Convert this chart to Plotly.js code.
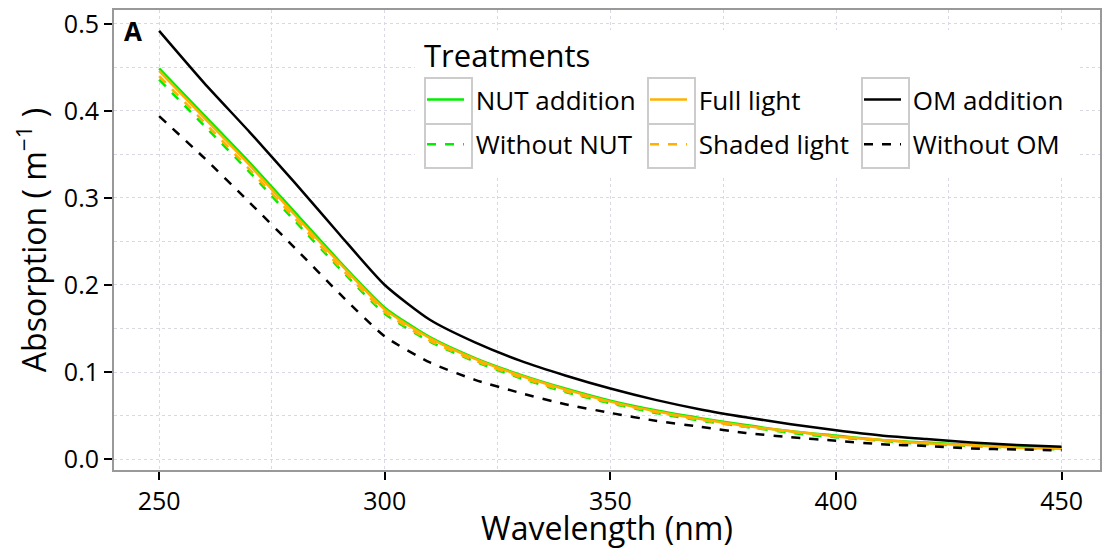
<!DOCTYPE html>
<html>
<head>
<meta charset="utf-8">
<script src="https://cdn.plot.ly/plotly-3.0.1.min.js"></script>
<style>html,body{margin:0;padding:0;background:#fff;}#chart{width:1104px;height:549px;}</style>
</head>
<body>
<div id="chart"></div>
<script>
const wavelength = [250,260,270,280,290,300,310,320,330,340,350,360,370,380,390,400,410,420,430,440,450];
const nutAddition = [0.449,0.395,0.341,0.284,0.227,0.174,0.140,0.116,0.097,0.081,0.067,0.056,0.047,0.039,0.032,0.027,0.022,0.019,0.016,0.014,0.012];
const withoutNut  = [0.436,0.383,0.330,0.274,0.219,0.167,0.135,0.112,0.093,0.077,0.064,0.053,0.044,0.037,0.030,0.025,0.021,0.017,0.015,0.013,0.011];
const fullLight   = [0.446,0.392,0.338,0.281,0.225,0.172,0.139,0.115,0.096,0.080,0.066,0.055,0.046,0.038,0.032,0.026,0.022,0.018,0.016,0.013,0.012];
const shadedLight = [0.440,0.387,0.333,0.277,0.221,0.169,0.136,0.113,0.094,0.078,0.065,0.054,0.045,0.037,0.031,0.026,0.021,0.018,0.015,0.013,0.011];
const omAddition  = [0.492,0.432,0.376,0.318,0.258,0.200,0.160,0.134,0.113,0.096,0.081,0.068,0.057,0.048,0.040,0.033,0.027,0.023,0.019,0.016,0.014];
const withoutOm   = [0.394,0.346,0.295,0.243,0.190,0.141,0.111,0.091,0.076,0.063,0.053,0.044,0.037,0.030,0.025,0.021,0.017,0.015,0.012,0.011,0.010];
const xTicks = [250,300,350,400,450];
const yTicks = [0.0,0.1,0.2,0.3,0.4,0.5];
const yTickText = ['0.0','0.1','0.2','0.3','0.4','0.5'];
const legendTitle = 'Treatments';
const panelLabel = 'A';

// pixel -> paper helpers (plot area: x 114..1100, y 10..470)
const px = p => (p - 114) / 986;
const py = p => 1 - (p - 10) / 460;

function tr(name, y, color, dash, leg){
  return {x: wavelength, y: y, name: '\u00a0' + name, type:'scatter', mode:'lines', legend: leg, legendgroup: name,
    line:{color:color, width:2.5, dash:dash, shape:'spline', smoothing:0.6}};
}
const data = [
  tr('NUT addition', nutAddition, '#00ee00', 'solid', 'legend'),
  tr('Without NUT', withoutNut, '#00ee00', 'dash', 'legend'),
  tr('Full light', fullLight, '#ffb000', 'solid', 'legend2'),
  tr('Shaded light', shadedLight, '#ffb000', 'dash', 'legend2'),
  tr('OM addition', omAddition, '#000000', 'solid', 'legend3'),
  tr('Without OM', withoutOm, '#000000', 'dash', 'legend3')
];
const gridC = '#d9d9e3';
function leg(xp){
  return {orientation:'v', x:px(xp), y:py(76), xanchor:'left', yanchor:'top',
    bgcolor:'rgba(0,0,0,0)', borderwidth:0, font:{size:26, color:'#000'},
    itemwidth:37, tracegroupgap:8};
}
const shapes = [
  {type:'rect', xref:'paper', yref:'paper', x0:px(415), x1:px(1078), y0:py(176), y1:py(30),
   fillcolor:'#fff', line:{width:0}, layer:'above'}
];
[425, 648, 862].forEach(x0 => {
  [[78,124],[124,168]].forEach(r => {
    shapes.push({type:'rect', xref:'paper', yref:'paper', x0:px(x0), x1:px(x0+47), y0:py(r[1]), y1:py(r[0]),
      fillcolor:'#fff', line:{color:'#cccccc', width:2}, layer:'above'});
  });
});
const layout = {
  width:1104, height:549,
  margin:{l:114, r:4, t:10, b:79},
  paper_bgcolor:'#fff', plot_bgcolor:'#fff',
  font:{family:'Open Sans, Noto Sans, sans-serif', color:'#000'},
  showlegend:true,
  xaxis:{range:[240,458.5], tickvals:xTicks, ticks:'outside', ticklen:8, tickwidth:2, tickcolor:'#000',
    tickfont:{size:25, color:'#000'}, showline:true, mirror:true, linecolor:'#999', linewidth:2,
    showgrid:true, gridcolor:gridC, griddash:'dot', gridwidth:1, zeroline:false,
    minor:{tickvals:[275,325,375,425], showgrid:true, gridcolor:gridC, griddash:'dot', gridwidth:1, ticks:''},
    title:{text:'Wavelength (nm)', font:{size:32, color:'#000'}, standoff:4}},
  yaxis:{range:[-0.0126,0.516], tickvals:yTicks, ticktext:yTickText, ticks:'outside', ticklen:8, tickwidth:2, tickcolor:'#000',
    tickfont:{size:25, color:'#000'}, showline:true, mirror:true, linecolor:'#999', linewidth:2,
    showgrid:true, gridcolor:gridC, griddash:'dot', gridwidth:1, zeroline:false,
    minor:{tickvals:[0.05,0.15,0.25,0.35,0.45], showgrid:true, gridcolor:gridC, griddash:'dot', gridwidth:1, ticks:''},
    title:{text:'Absorption ( m<sup>\u22121</sup> )', font:{size:32, color:'#000'}, standoff:8}},
  legend: leg(422),
  legend2: leg(645),
  legend3: leg(859),
  shapes: shapes,
  annotations:[
    {text:'<b>'+panelLabel+'</b>', xref:'paper', yref:'paper', x:px(122), y:py(31), xanchor:'left', yanchor:'middle',
     showarrow:false, font:{size:26, color:'#000'}},
    {text:legendTitle, xref:'paper', yref:'paper', x:px(422), y:py(55), xanchor:'left', yanchor:'middle',
     showarrow:false, font:{size:31, color:'#000'}}
  ]
};
Plotly.newPlot('chart', data, layout, {displayModeBar:false, staticPlot:true});
</script>
</body>
</html>
